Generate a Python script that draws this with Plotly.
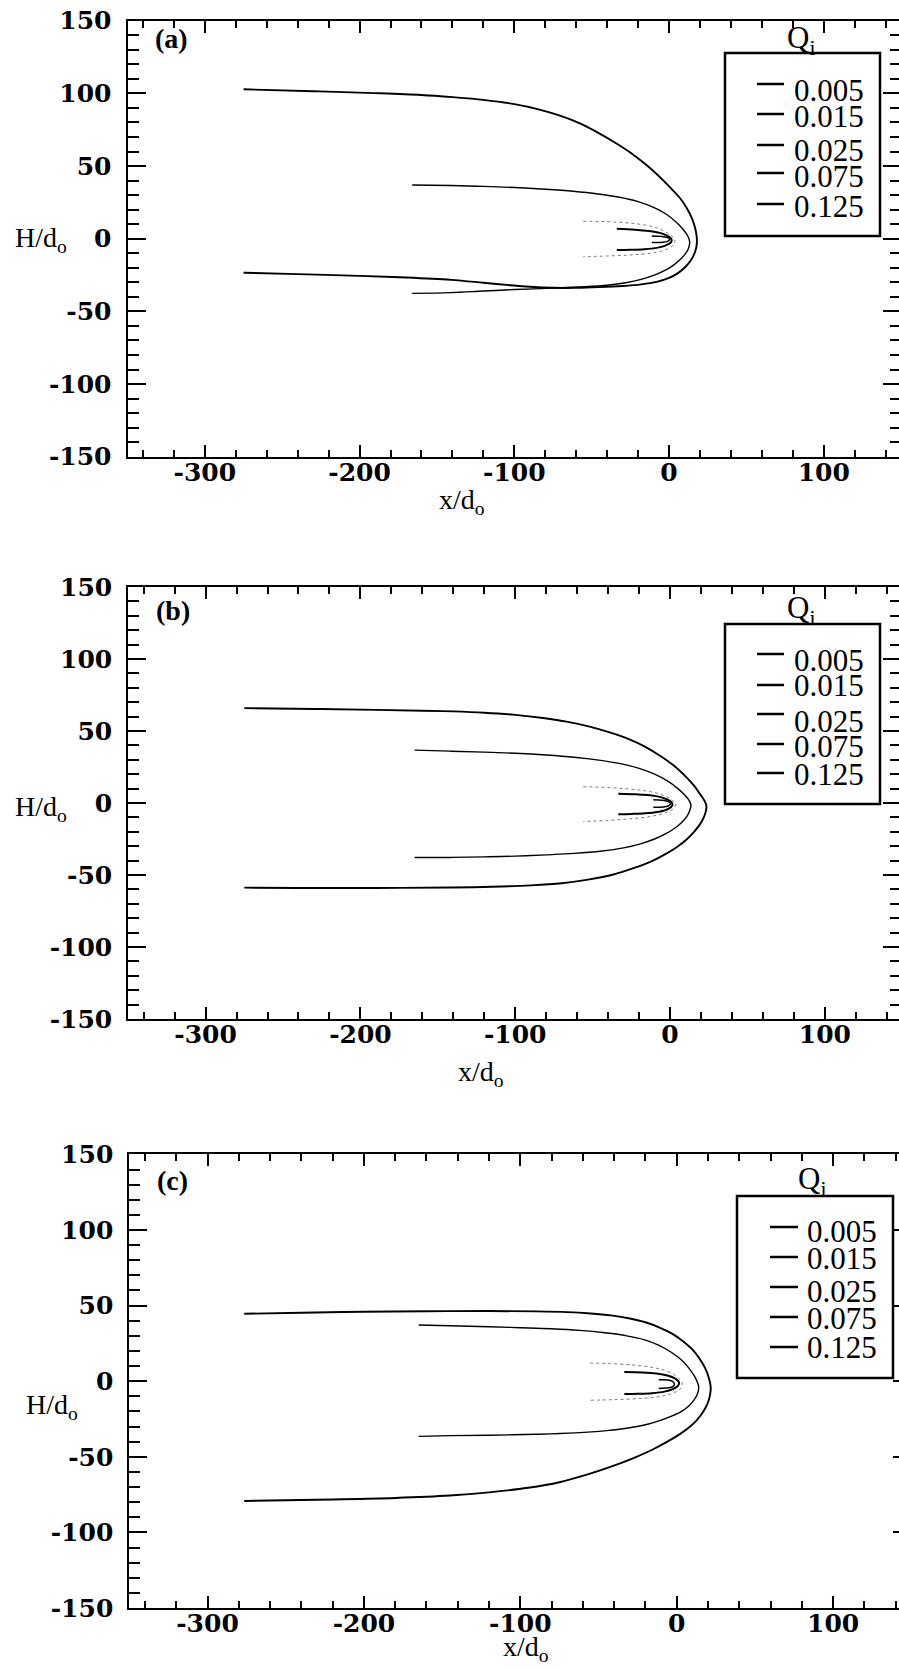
import plotly.graph_objects as go

W, H = 899, 1669

# ---------------------------------------------------------------- data
Q_LABELS = ["0.005", "0.015", "0.025", "0.075", "0.125"]
PANEL_TAGS = ["(a)", "(b)", "(c)"]
X_TICKS = [-300, -200, -100, 0, 100]
X_TICK_TEXT = ["-300", "-200", "-100", "0", "100"]
Y_TICKS = [-150, -100, -50, 0, 50, 100, 150]
Y_TICK_TEXT = ["-150", "-100", "-50", "0", "50", "100", "150"]

# panel (a): each contour runs from its upper open end, round the nose, to its lower open end
a_q125_x = [-275, -230, -190, -160, -140, -120, -100, -85, -70, -58, -46, -34, -24, -15, -7, 0, 7, 11.5, 14.8,
            16.8, 17.8, 18, 17.6, 16.3, 14, 10.5, 6, 0, -8, -18, -30, -45, -60, -75, -90, -105, -120, -141,
            -170, -200, -240, -275]
a_q125_y = [102.8, 101.5, 100.2, 98.9, 97.4, 95.5, 92.6, 89.2, 84.5, 79.5, 73, 65.5, 58.5, 51, 43.5, 36, 28, 21, 14,
            7.5, 2, -2, -6, -10.5, -15, -19.5, -23.5, -27, -29.7, -31.4, -32.5, -33.3, -33.8, -33.8, -33.1, -31.8, -30.3, -28.3,
            -26.7, -25.6, -24.4, -23.4]
a_q075_x = [-166, -141, -120, -100, -80, -62, -46, -32, -20, -10, -2, 4.5, 9, 12, 13.3,
            12.6, 10.5, 7, 2.5, -3, -10, -18, -28, -40, -55, -75, -100, -120, -141, -166]
a_q075_y = [37, 36.6, 36, 35.2, 34, 32.6, 30.8, 28.5, 25.5, 21.5, 17, 11.5, 6.5, 2, -2,
            -6.5, -10.5, -14.5, -18.5, -22, -25.3, -28, -30.3, -32, -33.1, -34, -35, -36, -37.1, -37.6]
a_q025_x = [-55.4, -40, -25, -15, -8, -3, 1, 3.3, 3.8, 2.8, 0, -5, -12, -25, -40, -55.4]
a_q025_y = [12, 11.7, 10.7, 9.3, 7.5, 5.2, 2.5, 0.3, -1.5, -4, -6.5, -8.6, -10, -11.2, -11.9, -12.4]
a_q015_x = [-33.8, -22, -13, -6, -1.5, 1.2, 1.7, 0.8, -2.5, -8, -16, -25, -33.8]
a_q015_y = [6.8, 6.2, 5.3, 4, 2.2, 0.2, -1.2, -3, -4.8, -6.3, -7.2, -7.6, -7.8]
a_q005_x = [-11.2, -5, -1.5, 0.4, -1, -4.5, -11.2]
a_q005_y = [1.9, 1.6, 0.9, -0.4, -1.8, -2.5, -2.7]

# panel (b)
b_q125_x = [-275, -230, -190, -160, -140, -120, -100, -82, -66, -52, -39, -27, -16, -6, 3, 10, 15.5, 19.5, 22.3,
            23.5, 23.2, 21.8, 19.2, 15.5, 10.5, 4.5, -3, -12, -23, -36, -52, -70, -90, -115, -142, -190, -240, -275]
b_q125_y = [65.9, 65.3, 64.7, 64.1, 63.6, 62.7, 61.2, 59, 56.3, 53, 49, 44.5, 39, 32.5, 25.5, 18.5, 12, 6, 1.5,
            -2, -5.5, -10, -15, -20, -25.5, -30.5, -35.5, -40.5, -45, -49.5, -53, -55.7, -57.2, -58.2, -58.7, -59, -59, -58.8]
b_q075_x = [-165, -142, -120, -100, -80, -62, -46, -32, -20, -10, -2, 4.5, 9.5, 12.5, 13.5,
            12.8, 10.8, 7.5, 3, -3, -10, -18, -30, -45, -62, -80, -100, -120, -142, -165]
b_q075_y = [36.7, 36, 35.3, 34.5, 33.3, 31.8, 29.8, 27.3, 24, 20, 15.5, 10.5, 5.5, 1.5, -1.5,
            -5, -9.5, -13.5, -17.5, -21.5, -25, -28, -31.2, -33.5, -35, -36, -36.9, -37.4, -37.8, -37.8]
b_q025_x = [-56, -40, -26, -15, -7, -2, 1.8, 3.5, 2.8, 0, -5, -12, -24, -40, -56]
b_q025_y = [11.3, 10.7, 9.7, 8.3, 6.4, 4.2, 1.6, -0.8, -3.2, -5.5, -7.5, -9.2, -10.8, -12.1, -12.8]
b_q015_x = [-33.4, -22, -13, -6, -1.5, 1, 1.6, 0.7, -2.5, -8, -16, -25, -33.4]
b_q015_y = [6.4, 6, 5.4, 4.1, 2.3, 0.5, -1, -2.8, -4.8, -6.3, -7.2, -7.6, -7.8]
b_q005_x = [-10.8, -5, -1.5, 0.4, -1, -4.5, -10.8]
b_q005_y = [2.2, 1.9, 1.1, -0.4, -1.9, -2.8, -3]

# panel (c)
c_q125_x = [-276.5, -240, -200, -160, -120, -90, -70, -55, -42, -30, -20, -11, -3, 4, 10, 14.5, 18, 20.3, 21.7,
            21.3, 19.8, 17, 13, 8, 2, -6, -16, -28, -42, -58, -75, -95, -120, -145, -180, -220, -276.5]
c_q125_y = [44.6, 45.3, 45.9, 46.3, 46.4, 46.2, 45.7, 44.8, 43.5, 41.5, 39, 35.5, 31.5, 26.5, 21, 15, 9, 3, -3.6,
            -9, -14.5, -20, -25.5, -30.5, -35, -40, -45.5, -51, -56.5, -62, -66.8, -70.5, -73.5, -75.6, -77.2, -78.2, -79.2]
c_q075_x = [-165, -145, -120, -100, -80, -62, -46, -32, -21, -12, -4, 2.5, 7.5, 11.5, 14,
            13.2, 11, 7.5, 3, -3, -10, -18, -30, -45, -65, -90, -120, -145, -165]
c_q075_y = [37.2, 36.7, 36, 35.4, 34.7, 33.6, 32, 30, 27.5, 24, 19.5, 14.5, 9, 3, -3.6,
            -8.5, -12.5, -16.5, -20, -23, -25.8, -28.3, -30.8, -32.7, -34.2, -35.1, -35.7, -36, -36.5]
c_q025_x = [-55.4, -40, -26, -15, -7, -2, 1.5, 3.5, 2.8, 0, -5, -12, -24, -40, -55.4]
c_q025_y = [12, 11.5, 10.5, 9, 7, 4.5, 1.5, -1.8, -4.5, -6.8, -8.8, -10.3, -11.5, -12.2, -12.6]
c_q015_x = [-33.5, -22, -13, -6, -1.5, 1, 1.5, 0.5, -2.5, -8, -16, -25, -33.5]
c_q015_y = [6.1, 5.8, 5.1, 3.8, 2, 0, -1.5, -3.3, -5.2, -6.9, -7.9, -8.3, -8.5]
c_q005_x = [-11.5, -6, -3, -1.5, -2.5, -5.5, -11.5]
c_q005_y = [1, 0.8, 0, -2, -3.6, -4.4, -4.8]

CURVES = [
    [(a_q005_x, a_q005_y), (a_q015_x, a_q015_y), (a_q025_x, a_q025_y), (a_q075_x, a_q075_y), (a_q125_x, a_q125_y)],
    [(b_q005_x, b_q005_y), (b_q015_x, b_q015_y), (b_q025_x, b_q025_y), (b_q075_x, b_q075_y), (b_q125_x, b_q125_y)],
    [(c_q005_x, c_q005_y), (c_q015_x, c_q015_y), (c_q025_x, c_q025_y), (c_q075_x, c_q075_y), (c_q125_x, c_q125_y)],
]

# ---------------------------------------------------------------- styling
LINE_STYLE = [
    dict(color="black", width=1.5, dash="solid"),
    dict(color="black", width=2.0, dash="solid"),
    dict(color="#7a7a7a", width=1.0, dash="dot"),
    dict(color="black", width=1.4, dash="solid"),
    dict(color="black", width=1.9, dash="solid"),
]

# frame geometry in page pixels: left, top, bottom edges and x range end
FRAMES = [
    dict(left=127.5, top=20.7, bottom=456.7, xmax=148.6, right_major=16, right_minor=9),
    dict(left=128.2, top=587.0, bottom=1019.0, xmax=147.9, right_major=16, right_minor=9),
    dict(left=129.3, top=1154.4, bottom=1608.0, xmax=142.1, right_major=6, right_minor=0),
]

# legend and label placement in page pixels
DECOR = [
    dict(tag=(171, 39), ylab=(41, 239), xlab=(462, 501), qtitle=(801, 40),
         box=(725, 53, 880, 236), line_x=(757, 784), text_x=792,
         line_y=[84, 114, 145, 173, 204], text_y=[88, 114, 148, 174, 204]),
    dict(tag=(173, 610), ylab=(41, 808), xlab=(481, 1073), qtitle=(801, 610),
         box=(725, 624, 880, 804), line_x=(757, 784), text_x=792,
         line_y=[654, 685, 714, 744, 773], text_y=[658, 683, 719, 744, 772]),
    dict(tag=(172, 1180), ylab=(52, 1406), xlab=(526, 1648), qtitle=(812, 1181),
         box=(737, 1196, 893, 1378), line_x=(770, 798), text_x=805,
         line_y=[1227, 1257, 1287, 1317, 1347], text_y=[1229, 1256, 1289, 1316, 1345]),
]

SERIF = "Liberation Serif"
TICK_FONT = dict(family="DejaVu Serif", size=25, color="black", weight="bold")


def px(xp):
    return xp / W


def py(yp):
    return 1 - yp / H


def label(text, pos, size, weight="normal", xanchor="center", height=None):
    ann = dict(text=text, x=px(pos[0]), y=py(pos[1]), xref="paper", yref="paper",
               xanchor=xanchor, yanchor="middle", showarrow=False,
               font=dict(family=SERIF, size=size, color="black", weight=weight))
    if height:
        ann["height"] = height
    return ann


fig = go.Figure()
layout = dict(template="none", width=W, height=H, margin=dict(l=0, r=0, t=0, b=0, pad=0, autoexpand=False),
              paper_bgcolor="white", plot_bgcolor="white", showlegend=False)
shapes, annotations = [], []

for i, (frame, curves, deco, tag) in enumerate(zip(FRAMES, CURVES, DECOR, PANEL_TAGS)):
    n = i + 1
    xa, ya, yr = f"x{n}", f"y{n}", f"y{n + 3}"
    for (xs, ys), style in zip(curves, LINE_STYLE):
        fig.add_trace(go.Scatter(x=xs, y=ys, mode="lines", xaxis=xa, yaxis=ya,
                                 line=dict(shape="spline", smoothing=1.0, **style),
                                 hoverinfo="skip"))
    # empty trace so the right-hand tick axis is drawn
    fig.add_trace(go.Scatter(x=[], y=[], xaxis=xa, yaxis=yr, hoverinfo="skip"))

    ydom = [py(frame["bottom"]), py(frame["top"])]
    layout[f"xaxis{n}"] = dict(
        domain=[px(frame["left"]), 1], range=[-350, frame["xmax"]], anchor=ya, automargin=False,
        tickmode="array", tickvals=X_TICKS, ticktext=X_TICK_TEXT,
        ticks="inside", ticklen=12, tickwidth=2, tickcolor="black",
        minor=dict(dtick=20, tick0=0, ticks="inside", ticklen=7, tickwidth=1.5,
                   tickcolor="black", showgrid=False),
        showline=True, linewidth=2, linecolor="black", mirror="ticks",
        showgrid=False, zeroline=False, tickfont=TICK_FONT, ticklabelstandoff=-8)
    layout[f"yaxis{n}"] = dict(
        domain=ydom, range=[-150, 150], anchor=xa, automargin=False,
        tickmode="array", tickvals=Y_TICKS, ticktext=Y_TICK_TEXT,
        ticks="inside", ticklen=18, tickwidth=2, tickcolor="black",
        minor=dict(dtick=10, tick0=0, ticks="inside", ticklen=11, tickwidth=1.5,
                   tickcolor="black", showgrid=False),
        showline=True, linewidth=2, linecolor="black", mirror=False,
        showgrid=False, zeroline=False, tickfont=TICK_FONT, ticklabelstandoff=9)
    right = dict(
        overlaying=ya, side="right", anchor=xa, range=[-150, 150], automargin=False,
        tickmode="linear", tick0=0, dtick=50, ticks="inside",
        ticklen=frame["right_major"], tickwidth=2, tickcolor="black",
        showticklabels=False, showline=False, showgrid=False, zeroline=False)
    if frame["right_minor"]:
        right["minor"] = dict(dtick=10, tick0=0, ticks="inside", ticklen=frame["right_minor"],
                              tickwidth=1.5, tickcolor="black", showgrid=False)
    layout[f"yaxis{n + 3}"] = right

    # panel tag and axis titles
    annotations.append(label(tag, deco["tag"], 28, weight="bold"))
    annotations.append(label("H/d<sub>o</sub>", deco["ylab"], 28))
    annotations.append(label("x/d<sub>o</sub>", deco["xlab"], 28))

    # legend: title, frame, line samples and values
    annotations.append(label("Q<sub>i</sub>", deco["qtitle"], 31))
    x0, y0, x1, y1 = deco["box"]
    shapes.append(dict(type="rect", xref="paper", yref="paper",
                       x0=px(x0), x1=px(x1), y0=py(y1), y1=py(y0),
                       line=dict(color="black", width=2.5), fillcolor="rgba(0,0,0,0)"))
    for text, ly, ty in zip(Q_LABELS, deco["line_y"], deco["text_y"]):
        shapes.append(dict(type="line", xref="paper", yref="paper",
                           x0=px(deco["line_x"][0]), x1=px(deco["line_x"][1]),
                           y0=py(ly), y1=py(ly), line=dict(color="black", width=2.5)))
        annotations.append(label(text, (deco["text_x"], ty + 2), 31, xanchor="left", height=24))

layout["shapes"] = shapes
layout["annotations"] = annotations
fig.update_layout(**layout)
fig.write_html("out.html")
